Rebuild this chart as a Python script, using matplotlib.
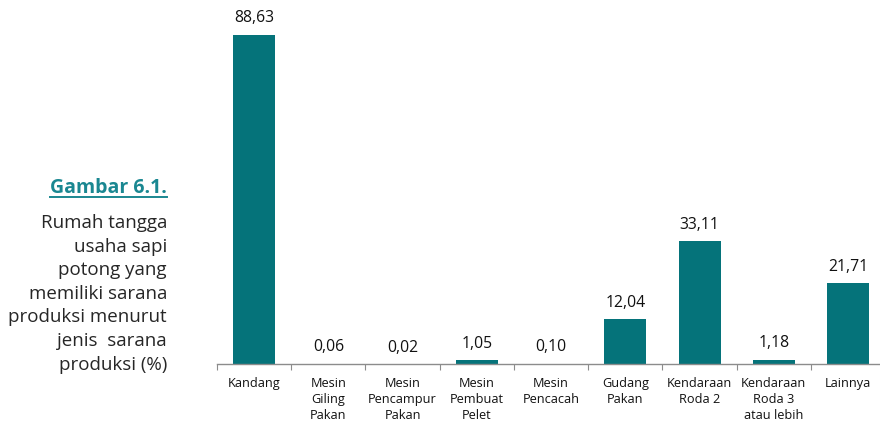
import numpy as np
import matplotlib.pyplot as plt
from matplotlib.lines import Line2D

# data
categories = ['Kandang', 'Mesin\nGiling\nPakan', 'Mesin\nPencampur\nPakan', 'Mesin\nPembuat\nPelet',
              'Mesin\nPencacah', 'Gudang\nPakan', 'Kendaraan\nRoda 2', 'Kendaraan\nRoda 3\natau lebih',
              'Lainnya']
values = [88.63, 0.06, 0.02, 1.05, 0.10, 12.04, 33.11, 1.18, 21.71]

bar_color = '#05737A'
title_color = '#1A8791'
text_color = '#262626'

plt.rcParams['font.family'] = ['Open Sans', 'DejaVu Sans']

fig = plt.figure(figsize=(8.8, 4.24), dpi=100)
ax = fig.add_axes([217 / 880, 60 / 424, 663 / 880, 364 / 424])

x = np.arange(len(values))
ax.bar(x, values, width=0.566, color=bar_color)

for xi, v in zip(x, values):
    ax.annotate(f'{v:.2f}'.replace('.', ','), (xi, v), xytext=(0, 6),
                textcoords='offset points', ha='center', va='bottom',
                fontsize=11.3, color='#111111')

ax.set_xlim(-0.5, 8.43)
ax.set_ylim(0, 98)
ax.set_yticks([])
for s in ['top', 'right', 'left']:
    ax.spines[s].set_visible(False)
ax.spines['bottom'].set_color('#8c8c8c')
ax.spines['bottom'].set_linewidth(1.0)

# ticks at category boundaries, labels at centers
ax.set_xticks(np.arange(-0.5, 8.5, 1.0))
ax.set_xticklabels([])
ax.tick_params(axis='x', length=4, color='#8c8c8c', direction='out')
for xi, lab in zip(x, categories):
    ax.text(xi, -3.4, lab, ha='center', va='top', fontsize=9.2,
            color='#111111', linespacing=1.3)

# caption on the left
t = fig.text(167 / 880, 1 - 193 / 424, 'Gambar 6.1.', ha='right', va='baseline',
             fontsize=14, fontweight='bold', color=title_color)
fig.text(167 / 880, 1 - 214 / 424,
         'Rumah tangga\nusaha sapi\npotong yang\nmemiliki sarana\nproduksi menurut\njenis  sarana\nproduksi (%)',
         ha='right', va='top', fontsize=13.5, color=text_color, linespacing=1.4)

fig.canvas.draw()
bb = t.get_window_extent().transformed(fig.transFigure.inverted())
fig.add_artist(Line2D([bb.x0, bb.x1], [1 - 197 / 424] * 2, transform=fig.transFigure,
                      color=title_color, linewidth=1.4))

fig.savefig('out.png', dpi=100)
